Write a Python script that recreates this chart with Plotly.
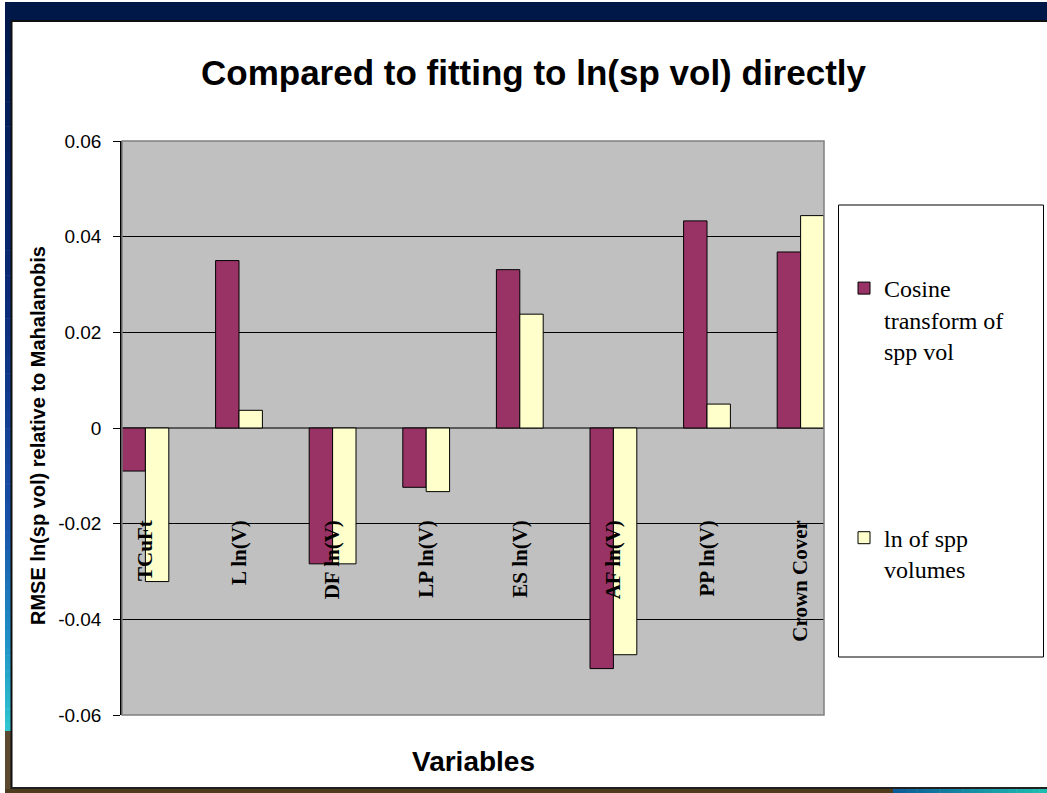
import plotly.graph_objects as go

# ---- data ----
variables = ["TCuFt", "L ln(V)", "DF ln(V)", "LP ln(V)", "ES ln(V)",
             "AF ln(V)", "PP ln(V)", "Crown Cover"]
cosine_vals = [-0.0090, 0.0350, -0.0284, -0.0124, 0.0331, -0.0503, 0.0433, 0.0368]
ln_vals = [-0.0321, 0.0037, -0.0284, -0.0133, 0.0238, -0.0474, 0.0050, 0.0444]
series_names = ["Cosine<br>transform of<br>spp vol", "ln of spp<br>volumes"]
y_ticks = [-0.06, -0.04, -0.02, 0, 0.02, 0.04, 0.06]
y_tick_text = ["-0.06", "-0.04", "-0.02", "0", "0.02", "0.04", "0.06"]

W, H = 1047, 793
ML, MR, MT, MB = 122, 223, 141, 78
PW, PH = W - ML - MR, H - MT - MB


def px(x):
    """pixel x -> paper x"""
    return (x - ML) / PW


def py(y):
    """pixel y -> paper y"""
    return (H - MB - y) / PH


fig = go.Figure()
fig.add_trace(go.Bar(x=variables, y=cosine_vals, name=series_names[0],
                     marker=dict(color="#993366", line=dict(color="black", width=1)),
                     legendgroup="a"))
fig.add_trace(go.Bar(x=variables, y=ln_vals, name=series_names[1],
                     marker=dict(color="#FFFFCC", line=dict(color="black", width=1)),
                     legendgroup="b"))

SANS = "Liberation Sans, Arial, sans-serif"
SERIF = "Liberation Serif, Times New Roman, serif"

shapes = []
# plot-area frame
shapes.append(dict(type="rect", xref="x domain", yref="y domain", x0=0, x1=1, y0=0, y1=1,
                   line=dict(color="#808080", width=1.5), layer="above"))

# slide frame: top band
shapes.append(dict(type="rect", xref="paper", yref="paper", x0=px(5), x1=px(W + 2),
                   y0=py(20), y1=py(2), fillcolor="#001848", line=dict(width=0), layer="below"))


def lerp(c1, c2, t):
    a = [int(c1[i:i + 2], 16) for i in (1, 3, 5)]
    b = [int(c2[i:i + 2], 16) for i in (1, 3, 5)]
    return "#%02x%02x%02x" % tuple(round(a[k] + (b[k] - a[k]) * t) for k in range(3))


# left band gradient
stops = [(2, "#001848"), (300, "#0a2a78"), (520, "#1850a8"), (640, "#2090c8"), (731, "#30c8d0")]
for i in range(len(stops) - 1):
    (y0, c0), (y1, c1) = stops[i], stops[i + 1]
    n = 12
    for k in range(n):
        ya = y0 + (y1 - y0) * k / n
        yb = y0 + (y1 - y0) * (k + 1) / n
        shapes.append(dict(type="rect", xref="paper", yref="paper", x0=px(5), x1=px(11),
                           y0=py(yb + 0.5), y1=py(ya), fillcolor=lerp(c0, c1, (k + 0.5) / n),
                           line=dict(width=0), layer="below"))
shapes.append(dict(type="rect", xref="paper", yref="paper", x0=px(5), x1=px(11),
                   y0=py(H + 2), y1=py(731), fillcolor="#5c4a30", line=dict(width=0), layer="below"))
# bottom band
shapes.append(dict(type="rect", xref="paper", yref="paper", x0=px(5), x1=px(893),
                   y0=py(H + 2), y1=py(789), fillcolor="#4e3c1e", line=dict(width=0), layer="below"))
n = 20
for k in range(n):
    xa = 893 + (W - 893) * k / n
    xb = 893 + (W - 893) * (k + 1) / n
    shapes.append(dict(type="rect", xref="paper", yref="paper", x0=px(xa), x1=px(xb + 0.5),
                       y0=py(H + 2), y1=py(789), fillcolor=lerp("#0a5a98", "#20c0b0", (k + 0.5) / n),
                       line=dict(width=0), layer="below"))
# thin dark inner lines
shapes.append(dict(type="line", xref="paper", yref="paper", x0=px(11), x1=px(W + 2),
                   y0=py(21), y1=py(21), line=dict(color="#101010", width=2), layer="below"))
shapes.append(dict(type="line", xref="paper", yref="paper", x0=px(11.5), x1=px(11.5),
                   y0=py(789), y1=py(21), line=dict(color="#101010", width=2), layer="below"))
shapes.append(dict(type="line", xref="paper", yref="paper", x0=px(11), x1=px(W + 2),
                   y0=py(788), y1=py(788), line=dict(color="#202020", width=2), layer="below"))
# legend box
shapes.append(dict(type="rect", xref="paper", yref="paper", x0=px(838.5), x1=px(1043.5),
                   y0=py(657), y1=py(205), line=dict(color="black", width=1), layer="below"))

annotations = [
    dict(text="<b>Compared to fitting to ln(sp vol) directly</b>", xref="paper", yref="paper",
         x=px(534), y=py(72), xanchor="center", yanchor="middle", showarrow=False,
         font=dict(family=SANS, size=35, color="black")),
    dict(text="<b>RMSE ln(sp vol) relative to Mahalanobis</b>", xref="paper", yref="paper",
         x=px(38), y=py(436), xanchor="center", yanchor="middle", textangle=-90, showarrow=False,
         font=dict(family=SANS, size=20, color="black")),
    dict(text="<b>Variables</b>", xref="paper", yref="paper",
         x=px(473), y=py(762), xanchor="center", yanchor="middle", showarrow=False,
         font=dict(family=SANS, size=28, color="black")),
]

fig.update_layout(
    width=W, height=H,
    margin=dict(l=ML, r=MR, t=MT, b=MB, autoexpand=False),
    paper_bgcolor="white", plot_bgcolor="#C0C0C0",
    barmode="group", bargap=0.5, bargroupgap=0,
    showlegend=True,
    legend=dict(x=px(844), y=py(266), xanchor="left", yanchor="top",
                traceorder="grouped", tracegroupgap=153, valign="top",
                font=dict(family=SERIF, size=24, color="black"),
                bgcolor="rgba(0,0,0,0)", borderwidth=0, itemclick=False),
    shapes=shapes,
    annotations=annotations,
    xaxis=dict(range=[-0.25, 7.25], anchor="free", position=py(515), showline=False,
               showgrid=False, ticks="", tickangle=-90, zeroline=False,
               tickfont=dict(family=SERIF, size=21, color="black", weight="bold")),
    yaxis=dict(range=[-0.06, 0.06], tickvals=y_ticks, ticktext=y_tick_text,
               showgrid=True, gridcolor="black", gridwidth=1,
               zeroline=True, zerolinecolor="#5a5a5a", zerolinewidth=2,
               showline=True, linecolor="black", linewidth=1.5,
               ticks="outside", ticklen=7, tickcolor="black", ticklabelstandoff=8,
               tickfont=dict(family=SANS, size=19, color="black")),
)

fig.write_html("out.html")
